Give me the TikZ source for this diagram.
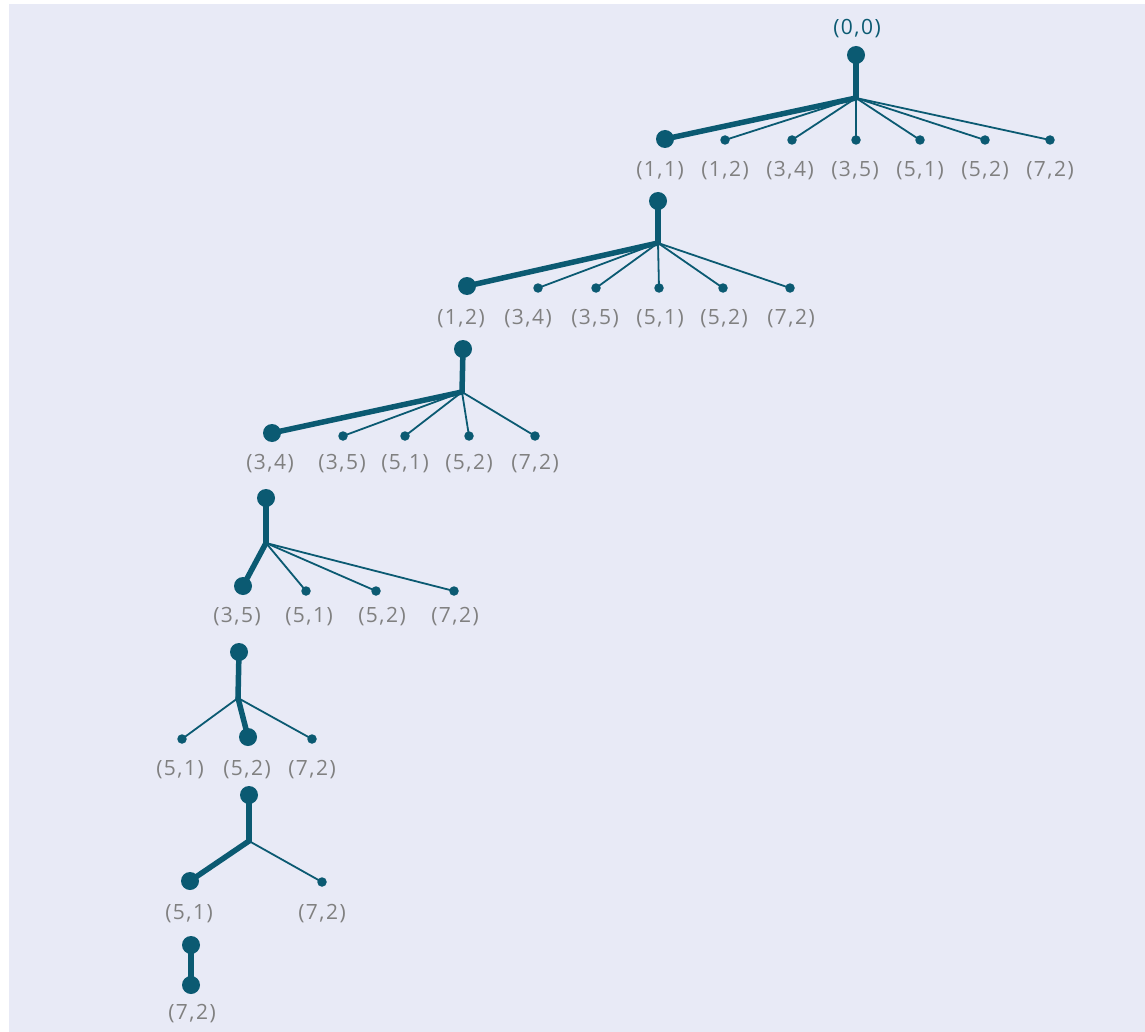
\documentclass[tikz,border=0pt]{standalone}
\usepackage{fontspec}
\setmainfont{Open Sans}
\newfontfamily\lblfont[LetterSpace=7]{Open Sans}
\definecolor{bgc}{HTML}{E8EAF6}
\definecolor{nodeteal}{HTML}{0B5A72}
\definecolor{lblgrey}{HTML}{808080}
\pgfdeclarelayer{back}
\pgfdeclarelayer{edges}
\pgfsetlayers{back,edges,main}
\begin{document}
\begin{tikzpicture}[x=1pt,y=-1pt,
  bigdot/.style={circle,fill=nodeteal,inner sep=0pt,minimum size=18pt},
  smalldot/.style={circle,fill=nodeteal,inner sep=0pt,minimum size=9.5pt},
  thickedge/.style={draw=nodeteal,line width=5.5pt,line cap=round},
  thinedge/.style={draw=nodeteal,line width=1.8pt,line cap=round},
  lbl/.style={font=\lblfont\fontsize{21}{24}\selectfont,text=lblgrey,inner sep=0pt,yshift=-2pt},
  rootlbl/.style={lbl,text=nodeteal}]

\begin{pgfonlayer}{back}
  \fill[white] (0,0) rectangle (1145,1032);
  \fill[bgc] (9,4) rectangle (1145,1032);
\end{pgfonlayer}
\useasboundingbox (0,0) rectangle (1145,1032);

% ---- level 0
\node[bigdot] (r0) at (856,55) {};
\node[rootlbl] (r0l) at (857,27) {(0,0)};
\coordinate (j0) at (856,98);
\node[bigdot] (a0) at (665,139) {};
\foreach \n/\x in {1/725,2/792,3/856,4/920,5/985,6/1050}
  \node[smalldot] (s0\n) at (\x,140) {};
\foreach \n/\x/\t in {0/660/{(1,1)},1/725/{(1,2)},2/790/{(3,4)},3/855/{(3,5)},4/920/{(5,1)},5/985/{(5,2)},6/1050/{(7,2)}}
  \node[lbl] (l0\n) at (\x,169) {\t};
\begin{pgfonlayer}{edges}
  \draw[thickedge] (r0.center) -- (j0);
  \draw[thickedge] (j0) -- (a0.center);
  \foreach \n in {1,...,6} \draw[thinedge] (j0) -- (s0\n.center);
\end{pgfonlayer}

% ---- level 1
\node[bigdot] (r1) at (658,201) {};
\coordinate (j1) at (658,243);
\node[bigdot] (a1) at (467,286) {};
\foreach \n/\x in {1/538,2/596,3/659,4/723,5/790}
  \node[smalldot] (s1\n) at (\x,288) {};
\foreach \n/\x/\t in {0/461/{(1,2)},1/528/{(3,4)},2/595/{(3,5)},3/660/{(5,1)},4/724/{(5,2)},5/791/{(7,2)}}
  \node[lbl] (l1\n) at (\x,317) {\t};
\begin{pgfonlayer}{edges}
  \draw[thickedge] (r1.center) -- (j1);
  \draw[thickedge] (j1) -- (a1.center);
  \foreach \n in {1,...,5} \draw[thinedge] (j1) -- (s1\n.center);
\end{pgfonlayer}

% ---- level 2
\node[bigdot] (r2) at (463,349) {};
\coordinate (j2) at (462,392);
\node[bigdot] (a2) at (272,433) {};
\foreach \n/\x in {1/343,2/405,3/469,4/535}
  \node[smalldot] (s2\n) at (\x,436) {};
\foreach \n/\x/\t in {0/270/{(3,4)},1/342/{(3,5)},2/405/{(5,1)},3/469/{(5,2)},4/535/{(7,2)}}
  \node[lbl] (l2\n) at (\x,462) {\t};
\begin{pgfonlayer}{edges}
  \draw[thickedge] (r2.center) -- (j2);
  \draw[thickedge] (j2) -- (a2.center);
  \foreach \n in {1,...,4} \draw[thinedge] (j2) -- (s2\n.center);
\end{pgfonlayer}

% ---- level 3
\node[bigdot] (r3) at (266,498) {};
\coordinate (j3) at (266,543);
\node[bigdot] (a3) at (243,586) {};
\foreach \n/\x in {1/306,2/376,3/454}
  \node[smalldot] (s3\n) at (\x,591) {};
\foreach \n/\x/\t in {0/237/{(3,5)},1/309/{(5,1)},2/382/{(5,2)},3/455/{(7,2)}}
  \node[lbl] (l3\n) at (\x,615) {\t};
\begin{pgfonlayer}{edges}
  \draw[thickedge] (r3.center) -- (j3);
  \draw[thickedge] (j3) -- (a3.center);
  \foreach \n in {1,...,3} \draw[thinedge] (j3) -- (s3\n.center);
\end{pgfonlayer}

% ---- level 4
\node[bigdot] (r4) at (239,652) {};
\coordinate (j4) at (238,698);
\node[bigdot] (a4) at (248,737) {};
\node[smalldot] (s41) at (182,739) {};
\node[smalldot] (s42) at (312,739) {};
\foreach \n/\x/\t in {0/180/{(5,1)},1/247/{(5,2)},2/312/{(7,2)}}
  \node[lbl] (l4\n) at (\x,768) {\t};
\begin{pgfonlayer}{edges}
  \draw[thickedge] (r4.center) -- (j4);
  \draw[thickedge] (j4) -- (a4.center);
  \foreach \n in {1,2} \draw[thinedge] (j4) -- (s4\n.center);
\end{pgfonlayer}

% ---- level 5
\node[bigdot] (r5) at (249,795) {};
\coordinate (j5) at (249,841);
\node[bigdot] (a5) at (190,881) {};
\node[smalldot] (s51) at (322,882) {};
\node[lbl] (l50) at (189,912) {(5,1)};
\node[lbl] (l51) at (322,912) {(7,2)};
\begin{pgfonlayer}{edges}
  \draw[thickedge] (r5.center) -- (j5);
  \draw[thickedge] (j5) -- (a5.center);
  \draw[thinedge] (j5) -- (s51.center);
\end{pgfonlayer}

% ---- level 6
\node[bigdot] (r6) at (191,945) {};
\node[bigdot] (a6) at (191,985) {};
\node[lbl] (l60) at (192,1012) {(7,2)};
\begin{pgfonlayer}{edges}
  \draw[thickedge] (r6.center) -- (a6.center);
\end{pgfonlayer}
\end{tikzpicture}
\end{document}
